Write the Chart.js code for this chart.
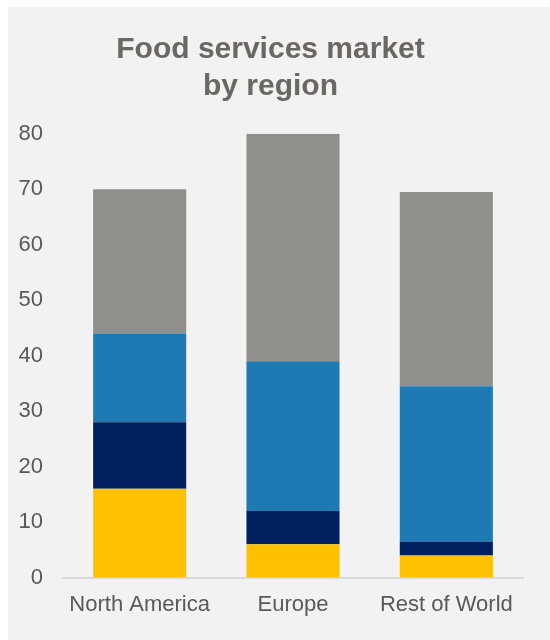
<!DOCTYPE html>
<html>
<head>
<meta charset="utf-8">
<script src="https://cdn.jsdelivr.net/npm/chart.js@4/dist/chart.umd.min.js"></script>
<style>
  body{margin:0;background:#fff;}
  #panel{position:absolute;left:8px;top:7px;width:542px;height:633px;background:#f2f2f2;}
</style>
</head>
<body>
<div id="panel"><canvas id="regionChart" width="542" height="633"></canvas></div>
<script>
const regions=["North America","Europe","Rest of World"];
const segmentA=[16,6,4];
const segmentB=[12,6,2.5];
const segmentC=[16,27,28];
const segmentD=[26,41,35];
const yTicks=[0,10,20,30,40,50,60,70,80];

const tickFont={family:"Liberation Sans, Arial",size:22};

const ctx=document.getElementById("regionChart");
let barChart=new Chart(ctx,{
    type:'bar',
    data:{
       labels:regions,
       datasets:[
        {label:"Segment A",data:segmentA,backgroundColor:"#FFC000"},
        {label:"Segment B",data:segmentB,backgroundColor:"#002060"},
        {label:"Segment C",data:segmentC,backgroundColor:"#1F7AB4"},
        {label:"Segment D",data:segmentD,backgroundColor:"#918F8C"}
       ]
    },
    options:{
        responsive:false,
        animation:false,
        layout:{padding:{left:10,right:27,top:0,bottom:8}},
        datasets:{bar:{categoryPercentage:1,barPercentage:0.607,borderWidth:0}},
        plugins:{
            legend:{display:false},
            tooltip:{enabled:false},
            title:{
                display:true,
                text:["Food services market","by region"],
                color:"#6b6763",
                font:{family:"Liberation Sans, Arial",size:30,weight:"bold",lineHeight:1.23},
                padding:{top:24,bottom:29}
            }
        },
        scales:{
            x:{
                stacked:true,
                grid:{display:false,drawTicks:false},
                border:{display:true,color:"#d9d9d9",width:2},
                ticks:{color:"#595959",padding:14,font:tickFont}
            },
            y:{
                stacked:true,
                min:0,max:80,
                afterBuildTicks:axis=>{axis.ticks=yTicks.map(v=>({value:v}));},
                afterFit:axis=>{axis.width=45;},
                grid:{display:false,drawTicks:false},
                border:{display:false},
                ticks:{color:"#595959",padding:20,font:tickFont}
            }
        }
    }
});
</script>
</body>
</html>
